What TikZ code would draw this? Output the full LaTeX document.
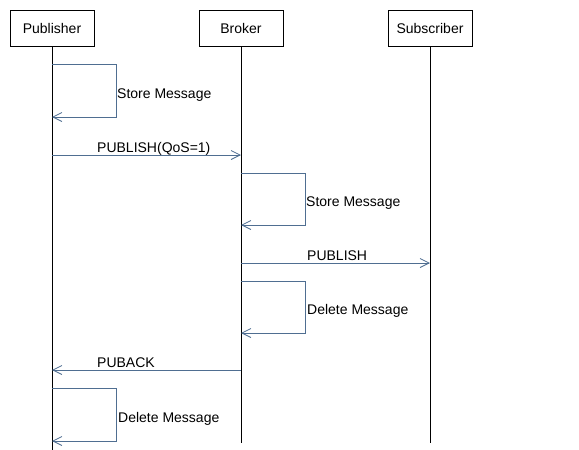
\documentclass[tikz,border=0pt]{standalone}
\usepackage{fontspec}
\setmainfont{Liberation Sans}
\usetikzlibrary{arrows.meta}
\definecolor{msg}{RGB}{79,110,145}
\begin{document}
\begin{tikzpicture}[x=1pt,y=-1pt,
  actor/.style={draw=black,line width=0.8pt,minimum width=84pt,minimum height=36pt,inner sep=0pt,font=\fontsize{14}{16}\selectfont},
  life/.style={draw=black,line width=0.8pt},
  msgline/.style={draw=msg,line width=0.8pt,-{Straight Barb[length=9pt,width=9pt,line width=0.8pt]}},
  lbl/.style={anchor=base west,inner sep=0pt,font=\fontsize{14}{16}\selectfont}]
\useasboundingbox (0,0) rectangle (579,450);
\node[actor] (pub) at (52,28) {Publisher};
\node[actor] (bro) at (241,28) {Broker};
\node[actor] (sub) at (430,28) {Subscriber};
\coordinate (pubend) at (52,450);
\coordinate (broend) at (241,443);
\coordinate (subend) at (430,443);
\draw[life] (pub.south) -- (pubend);
\draw[life] (bro.south) -- (broend);
\draw[life] (sub.south) -- (subend);
% Publisher store
\coordinate (p1a) at (52,64); \coordinate (p1b) at (116,64);
\coordinate (p1c) at (116,117); \coordinate (p1d) at (52,117);
\draw[msgline] (p1a) -- (p1b) -- (p1c) -- (p1d);
\node[lbl] (t1) at (117,98) {Store Message};
% PUBLISH QoS1
\coordinate (m2a) at (52,155); \coordinate (m2b) at (241,155);
\draw[msgline] (m2a) -- (m2b);
\node[lbl] (t2) at (97,152) {PUBLISH(QoS=1)};
% Broker store
\coordinate (b1a) at (241,173); \coordinate (b1b) at (305,173);
\coordinate (b1c) at (305,225); \coordinate (b1d) at (241,225);
\draw[msgline] (b1a) -- (b1b) -- (b1c) -- (b1d);
\node[lbl] (t3) at (306,206) {Store Message};
% PUBLISH
\coordinate (m4a) at (241,263); \coordinate (m4b) at (430,263);
\draw[msgline] (m4a) -- (m4b);
\node[lbl] (t4) at (307,260) {PUBLISH};
% Broker delete
\coordinate (b2a) at (241,281); \coordinate (b2b) at (305,281);
\coordinate (b2c) at (305,333); \coordinate (b2d) at (241,333);
\draw[msgline] (b2a) -- (b2b) -- (b2c) -- (b2d);
\node[lbl] (t5) at (307,314) {Delete Message};
% PUBACK
\coordinate (m6a) at (241,370); \coordinate (m6b) at (52,370);
\draw[msgline] (m6a) -- (m6b);
\node[lbl] (t6) at (97,367) {PUBACK};
% Publisher delete
\coordinate (p2a) at (52,388); \coordinate (p2b) at (116,388);
\coordinate (p2c) at (116,441); \coordinate (p2d) at (52,441);
\draw[msgline] (p2a) -- (p2b) -- (p2c) -- (p2d);
\node[lbl] (t7) at (118,422) {Delete Message};
\end{tikzpicture}
\end{document}
